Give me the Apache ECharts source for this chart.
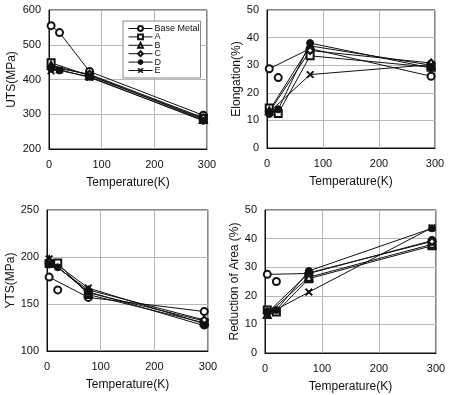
<!DOCTYPE html>
<html><head><meta charset="utf-8">
<script src="https://cdn.jsdelivr.net/npm/echarts@6/dist/echarts.min.js"></script>
<style>html,body{margin:0;padding:0;background:#fff}#c{width:450px;height:395px}</style>
</head><body><div id="c"></div><script>
// ---- data ----
const temps = [4, 20, 77, 293];
const seriesNames = ['Base Metal', 'A', 'B', 'C', 'D', 'E'];
const xTicks = [0, 100, 200, 300];

// UTS (MPa), one row per series (Base Metal, A..E); null = not measured
const utsValues = [
  [555, 535, 423, 297],
  [448, null, 411, 288],
  [441, null, 413, 285],
  [436, null, 415, 290],
  [431, 426, 408, 281],
  [425, 428, 406, 283]
];
// Elongation (%)
const elongValues = [
  [28.7, null, 36.0, 26.0],
  [14.5, 12.5, 33.4, 29.3],
  [13.5, null, 37.0, 30.0],
  [13.0, null, 35.3, 30.8],
  [12.3, 14.0, 38.0, 29.0],
  [13.0, null, 26.6, 30.2]
];
const elongBase20 = 25.5;
// YTS (MPa)
const ytsValues = [
  [178.6, null, 157, 142],
  [193, 193.5, 160, 130],
  [197, null, 162, 132],
  [195, null, 165, 133],
  [192, 189, 163, 127],
  [198, null, 167, 129]
];
const ytsBase20 = 165;
// Reduction of Area (%)
const raValues = [
  [27.5, null, 27.8, 39.3],
  [15.0, 14.3, 26.0, 37.5],
  [13.5, null, 26.5, 38.0],
  [14.0, null, 28.0, 39.0],
  [14.5, 15.0, 28.7, 43.6],
  [13.5, null, 21.3, 43.8]
];
const raBase20 = 25;

// ---- styling ----
const xPath = 'path://M0,1.2L1.2,0L5,3.8L8.8,0L10,1.2L6.2,5L10,8.8L8.8,10L5,6.2L1.2,10L0,8.8L3.8,5Z';
const symbols = ['emptyCircle', 'emptyRect', 'emptyTriangle', 'emptyDiamond', 'circle', xPath];
const symbolSizes = [7, 7, 7, 7, 7, 7];
const FONT = "'Liberation Sans', Arial, sans-serif";
const NARROW = "'Liberation Sans Narrow', 'Liberation Sans', Arial, sans-serif";

const grids = [
  {left: 49, top: 10, width: 158, height: 139},
  {left: 267, top: 10, width: 168, height: 138},
  {left: 47, top: 210, width: 161, height: 141},
  {left: 265, top: 210, width: 171, height: 143}
];
const yDefs = [
  {name: 'UTS(MPa)', min: 200, max: 600, interval: 100, gap: 31},
  {name: 'Elongation(%)', min: 0, max: 50, interval: 10, gap: 24},
  {name: 'YTS(MPa)', min: 100, max: 250, interval: 50, gap: 29},
  {name: 'Reduction of Area (%)', min: 0, max: 50, interval: 10, gap: 24}
];
const chartValues = [utsValues, elongValues, ytsValues, raValues];
const lone20 = [null, elongBase20, ytsBase20, raBase20];

const gridOpts = grids.map(g => Object.assign({show: true, borderColor: '#111', borderWidth: 1, backgroundColor: '#fff'}, g));
const xAxes = grids.map((g, i) => ({
  type: 'value', gridIndex: i, min: xTicks[0], max: xTicks[xTicks.length - 1], interval: 100,
  name: 'Temperature(K)', nameLocation: 'middle', nameGap: 28,
  nameTextStyle: {fontFamily: NARROW, fontSize: 12, color: '#111'},
  axisLine: {show: true, lineStyle: {color: '#111', width: 1}},
  axisTick: {show: false},
  axisLabel: {fontFamily: FONT, fontSize: 11, color: '#111', margin: 10},
  splitLine: {show: true, lineStyle: {color: '#b8b8b8', width: 1}}
}));
const yAxes = yDefs.map((d, i) => ({
  type: 'value', gridIndex: i, min: d.min, max: d.max, interval: d.interval,
  name: d.name, nameLocation: 'middle', nameGap: d.gap,
  nameTextStyle: {fontFamily: NARROW, fontSize: 12, color: '#111'},
  axisLine: {show: true, lineStyle: {color: '#111', width: 1}},
  axisTick: {show: false},
  axisLabel: {fontFamily: FONT, fontSize: 11, color: '#111', margin: 8},
  splitLine: {show: true, lineStyle: {color: '#b8b8b8', width: 1}}
}));

const series = [];
chartValues.forEach((vals, gi) => {
  vals.forEach((row, si) => {
    const data = [];
    row.forEach((v, k) => { if (v !== null) data.push([temps[k], v]); });
    series.push({
      type: 'line', name: seriesNames[si], xAxisIndex: gi, yAxisIndex: gi,
      data: data, symbol: symbols[si], symbolSize: symbolSizes[si], showAllSymbol: true,
      lineStyle: {color: '#111', width: 1},
      itemStyle: {color: '#111', borderColor: '#111', borderWidth: 1},
      animation: false
    });
  });
  if (lone20[gi] !== null) {
    series.push({
      type: 'line', name: seriesNames[0], xAxisIndex: gi, yAxisIndex: gi,
      data: [[temps[1], lone20[gi]]], symbol: symbols[0], symbolSize: symbolSizes[0],
      lineStyle: {width: 0}, itemStyle: {color: '#111', borderColor: '#111', borderWidth: 1},
      animation: false
    });
  }
});

const chart = echarts.init(document.getElementById('c'), null, {renderer: 'canvas'});
chart.setOption({
  animation: false,
  backgroundColor: '#fff',
  grid: gridOpts,
  xAxis: xAxes,
  yAxis: yAxes,
  legend: {
    data: seriesNames, orient: 'vertical', left: 123, top: 21,
    padding: [3, 1, 3, 5], itemWidth: 24, itemHeight: 6, itemGap: -0.6,
    borderColor: '#888', borderWidth: 1, backgroundColor: '#fff',
    textStyle: {fontFamily: FONT, fontSize: 9, color: '#111', lineHeight: 8, padding: [0, 0, 0, -3]},
    itemStyle: {color: '#111', borderColor: '#111', borderWidth: 1},
    lineStyle: {color: '#111', width: 1}
  },
  series: series
});
</script></body></html>
